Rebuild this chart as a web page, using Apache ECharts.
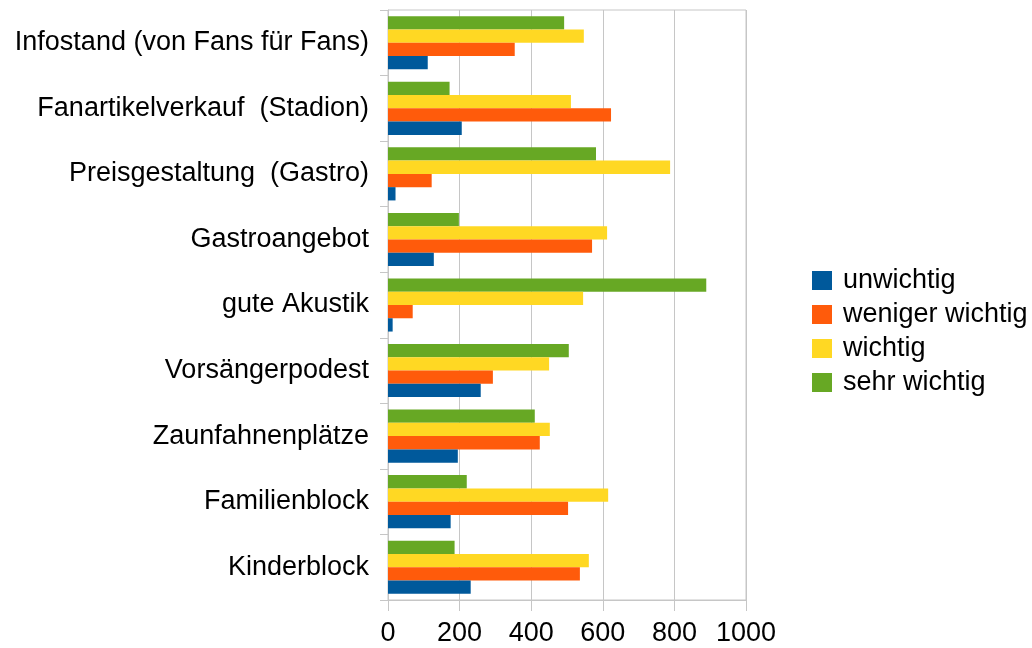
<!DOCTYPE html>
<html>
<head>
<meta charset="utf-8">
<script src="https://cdn.jsdelivr.net/npm/echarts@6/dist/echarts.min.js"></script>
<style>
  html, body { margin: 0; padding: 0; background: #fff; }
  #chart { width: 1032px; height: 648px; }
</style>
</head>
<body>
<div id="chart"></div>
<script>
// categories listed top -> bottom (y axis is inverted)
const categories = [
  'Infostand (von Fans für Fans)',
  'Fanartikelverkauf  (Stadion)',
  'Preisgestaltung  (Gastro)',
  'Gastroangebot',
  'gute Akustik',
  'Vorsängerpodest',
  'Zaunfahnenplätze',
  'Familienblock',
  'Kinderblock'
]
const seriesNames = ['unwichtig', 'weniger wichtig', 'wichtig', 'sehr wichtig']
const unwichtig = [111, 206, 21, 128, 13, 259, 195, 175, 231]
const wenigerWichtig = [354, 623, 122, 570, 69, 293, 424, 503, 536]
const wichtig = [547, 511, 788, 612, 545, 450, 452, 615, 561]
const sehrWichtig = [492, 172, 581, 198, 889, 505, 410, 220, 186]
const xTicks = { min: 0, max: 1000, interval: 200 }

const colors = ['#00599b', '#ff5b0b', '#ffd823', '#67a824']
const font = '"Liberation Sans", Arial, sans-serif'
const gridLine = '#c6c6c6'

const values = [unwichtig, wenigerWichtig, wichtig, sehrWichtig]

// bars inside a group are stacked top->bottom in series order,
// the picture has "unwichtig" at the bottom, so add series in reverse
const series = []
for (let i = seriesNames.length - 1; i >= 0; i--) {
  series.push({
    name: seriesNames[i],
    type: 'bar',
    data: values[i],
    itemStyle: { color: colors[i] },
    barGap: '0%',
    barCategoryGap: '19%',
  })
}

const option = {
  animation: false,
  textStyle: { fontFamily: font, color: '#000' },
  grid: {
    left: 388,
    right: 286, // 1032 - 746
    top: 10,
    bottom: 48,
    show: true,
    borderColor: gridLine,
    borderWidth: 1,
  },
  legend: {
    orient: 'vertical',
    left: 807,
    top: 262,
    icon: 'rect',
    itemWidth: 20,
    itemHeight: 19,
    itemGap: 7,
    textStyle: { fontSize: 27, fontFamily: font, color: '#000', lineHeight: 27, padding: [0, 0, 0, 6] },
    data: seriesNames,
  },
  xAxis: {
    type: 'value',
    min: xTicks.min,
    max: xTicks.max,
    interval: xTicks.interval,
    axisLine: { show: true, lineStyle: { color: gridLine } },
    axisTick: { show: true, length: 11, lineStyle: { color: gridLine } },
    splitLine: { show: true, lineStyle: { color: gridLine } },
    axisLabel: {
      fontSize: 27,
      fontFamily: font,
      color: '#000',
      margin: 20,
      formatter: (v) => String(v),
    },
  },
  yAxis: {
    type: 'category',
    inverse: true,
    data: categories,
    axisLine: { show: true, lineStyle: { color: gridLine } },
    axisTick: { show: true, length: 8, lineStyle: { color: gridLine } },
    splitLine: { show: false },
    axisLabel: { fontSize: 27, fontFamily: font, color: '#000', margin: 19 },
  },
  series,
}

const myChart = echarts.init(document.getElementById('chart'))
myChart.setOption(option)
</script>
</body>
</html>
